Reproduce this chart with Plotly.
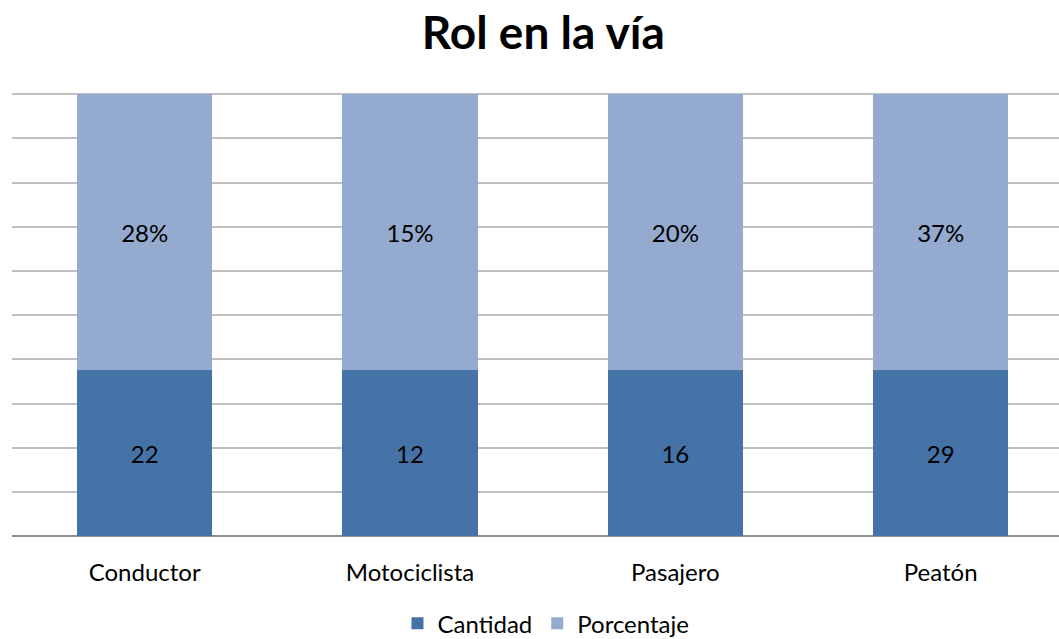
import plotly.graph_objects as go

# data
roles = ['Conductor', 'Motociclista', 'Pasajero', 'Peatón']
cantidad = [22, 12, 16, 29]
porcentaje = [28, 15, 20, 37]
# segment heights as drawn in the reference (share of the column, %)
cantidad_share = [37.5, 37.5, 37.5, 37.5]
porcentaje_share = [62.5, 62.5, 62.5, 62.5]

font_name = 'Lato'

fig = go.Figure()
fig.add_trace(go.Bar(
    x=roles, y=cantidad_share, name='Cantidad',
    marker_color='#4573A7', marker_line_width=0,
    text=[str(v) for v in cantidad], textposition='inside',
    insidetextanchor='middle', textfont=dict(color='black', size=24),
    width=0.51,
))
fig.add_trace(go.Bar(
    x=roles, y=porcentaje_share, name='Porcentaje',
    marker_color='#95AACF', marker_line_width=0,
    text=[f'{v}%' for v in porcentaje], textposition='inside',
    insidetextanchor='middle', textfont=dict(color='black', size=24),
    width=0.51,
))

fig.update_layout(
    barmode='stack',
    width=1059, height=639,
    margin=dict(l=12, r=0, t=93, b=103, autoexpand=False),
    paper_bgcolor='white', plot_bgcolor='white',
    font=dict(family=font_name, size=24, color='black'),
    title=dict(text='<b>Rol en la vía</b>', x=0.513, xanchor='center',
               y=1 - 33 / 639, yanchor='middle',
               font=dict(size=46, family=font_name, color='black')),
    legend=dict(orientation='h', x=0.51, xanchor='center', y=-0.198,
                yanchor='middle', font=dict(size=24), traceorder='normal',
                itemwidth=30),
    uniformtext=dict(mode=False),
)
fig.update_xaxes(range=[-0.5, 3.446], showline=False, ticks='outside',
                 ticklen=15, tickcolor='rgba(0,0,0,0)',
                 tickfont=dict(size=24), automargin=False)
fig.update_yaxes(range=[0, 100.3], tickvals=list(range(0, 101, 10)),
                 showticklabels=False, automargin=False,
                 showgrid=True, gridcolor='#C0C0C0', gridwidth=1.5,
                 zeroline=True, zerolinecolor='#8C8C8C', zerolinewidth=2)

fig.write_html('out.html', config={'displayModeBar': False},
               post_script="document.body.style.margin='0';"
                           "document.body.style.overflow='hidden';")
